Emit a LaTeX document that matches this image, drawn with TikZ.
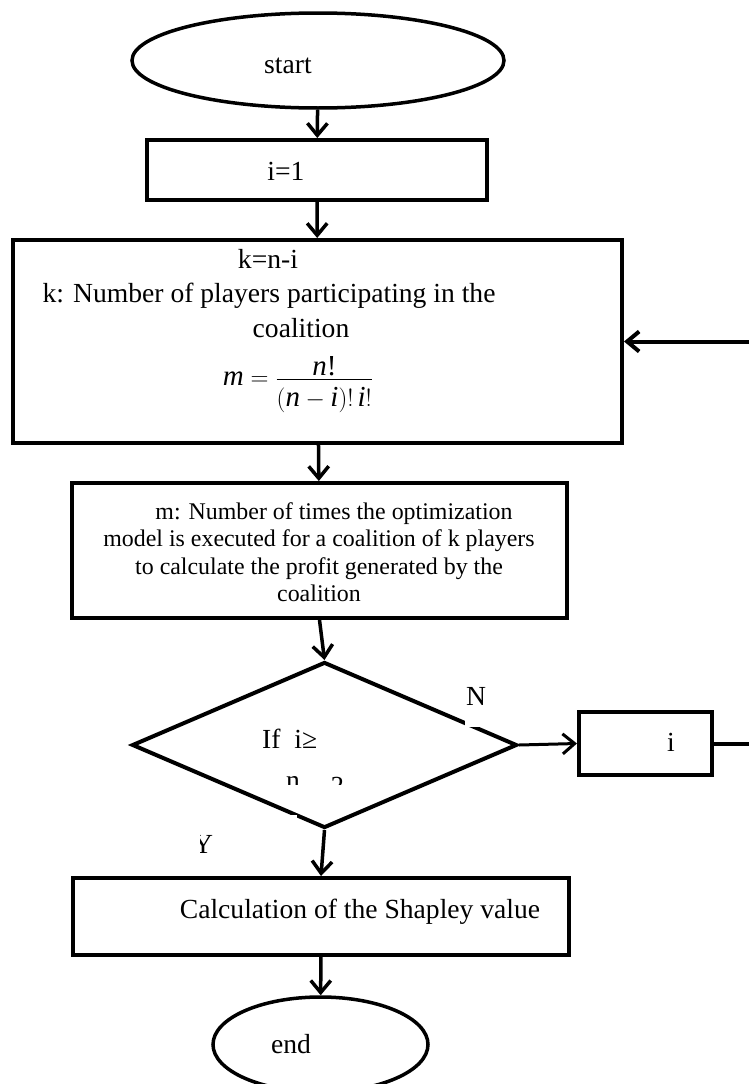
\documentclass[tikz,border=0pt]{standalone}
\usepackage{fontspec}
\setmainfont{Liberation Serif}
\usetikzlibrary{shapes.geometric,arrows.meta}
\begin{document}
\begin{tikzpicture}[x=1pt,y=-1pt,
    box/.style={draw,rectangle,line width=4pt,inner sep=0pt},
    oval/.style={draw,ellipse,line width=3.5pt,inner sep=0pt},
    txt/.style={inner sep=0pt,anchor=base,font=\fontsize{27.6}{33}\selectfont},
    small/.style={inner sep=0pt,font=\fontsize{23.9}{27.5}\selectfont},
    arr/.style={line width=3.5pt,-{Straight Barb[length=12pt,width=20pt]}}]
        \useasboundingbox (0,0) rectangle (749,1084);

        % shapes
        \node[oval,minimum width=372pt,minimum height=95pt] (start) at (318,60.5) {};
        \node[box,minimum width=340pt,minimum height=60pt] (init) at (317,170) {};
        \node[box,minimum width=609pt,minimum height=203pt] (coal) at (317.5,341.5) {};
        \node[box,minimum width=495pt,minimum height=135pt] (runs) at (319.5,550.5) {};
        \node[draw,diamond,line width=4pt,inner sep=0pt,minimum width=385pt,minimum height=166pt] (test) at (324.5,745) {};
        \node[box,minimum width=133pt,minimum height=63pt] (incr) at (645.5,743.5) {};
        \node[box,minimum width=496pt,minimum height=77pt] (shap) at (321,916.5) {};
        \node[oval,minimum width=215pt,minimum height=95pt] (end) at (320.5,1044.5) {};

        % texts
        \node[txt] (tstart) at (288,73) {start};
        \node[txt] (tinit) at (286,180) {i=1};
        \node[txt] (tk) at (268,268) {k=n-i};
        \node[txt] (tkdef) at (269,302) {k: Number of players participating in the};
        \node[txt] (tkdef2) at (301,337) {coalition};
        \node[txt,font=\fontsize{29}{35}\selectfont] (tm) at (298,385.5)
            {$\displaystyle \textit{m} = \frac{\raisebox{-7pt}[\height][0pt]{\textit{n}!}}{\rule{0pt}{26pt}(\textit{n}-\textit{i})!\,\textit{i}!}$};
        \node[small,anchor=north,align=center] (truns) at (319,502) {\hspace*{30pt}m: Number of times the optimization\\model is executed for a coalition of k players\\to calculate the profit generated by the\\coalition};
        \node[txt,anchor=base west] (tif) at (262,748) {If~~i≥};
        \begin{scope}
            \clip (200,700) rectangle (450,784);
            \node[txt,anchor=base west] (tif2) at (286,789) {n\hspace{31pt}\raisebox{-6pt}{?}};
        \end{scope}
        \node[txt] (tincr) at (671,751) {i};
        \node[txt] (tshap) at (360,918) {Calculation of the Shapley value};
        \node[txt] (tend) at (291,1053) {end};

        % branch labels
        \node[txt,anchor=south west,fill=white,inner sep=1pt,text depth=20pt] (lno) at (465,727) {N};
        \begin{scope}
            \clip (200,815) rectangle (297,870);
            \fill[white] (200,815) rectangle (297,870);
            \node[txt] (lyes) at (203,853) {Y};
        \end{scope}

        % connectors
        \coordinate (back) at (762,743.5);
        \draw[arr] (start) -- (init);
        \draw[arr] (init) -- (coal);
        \draw[arr] (coal) -- (runs);
        \draw[arr] (runs.south) -- (test.north);
        \draw[arr,line width=3pt] (test.east) -- (incr.west);
        \draw[arr] (test.south) -- (shap.north);
        \draw[arr] (shap) -- (end);
        \draw[arr,line width=4pt] (incr.east) -- (back) |- (coal.east);
    \end{tikzpicture}
\end{document}
